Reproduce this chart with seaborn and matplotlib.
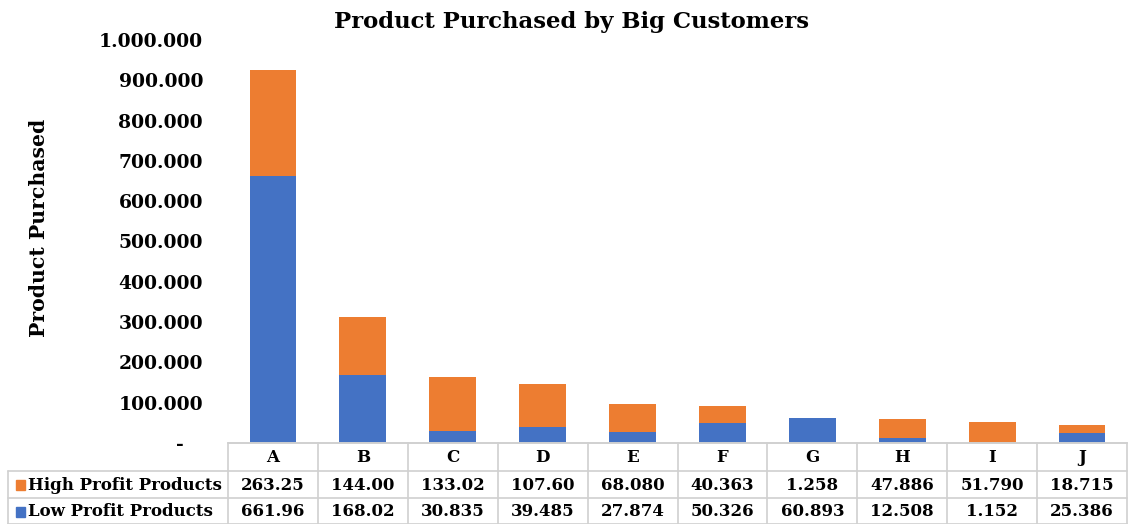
import matplotlib
matplotlib.use("Agg")
import matplotlib.pyplot as plt
import seaborn as sns
import pandas as pd
from matplotlib.lines import Line2D
from matplotlib.patches import Rectangle
from matplotlib.ticker import FuncFormatter, MultipleLocator

customers = ["A", "B", "C", "D", "E", "F", "G", "H", "I", "J"]
high_profit = [263250, 144000, 133020, 107600, 68080, 40363, 1258, 47886, 51790, 18715]
low_profit = [661960, 168020, 30835, 39485, 27874, 50326, 60893, 12508, 1152, 25386]
high_labels = ["263.25", "144.00", "133.02", "107.60", "68.080", "40.363", "1.258", "47.886", "51.790", "18.715"]
low_labels = ["661.96", "168.02", "30.835", "39.485", "27.874", "50.326", "60.893", "12.508", "1.152", "25.386"]
series_names = ["High Profit Products", "Low Profit Products"]

BLUE = "#4472C4"
ORANGE = "#ED7D31"
GRID = "#D0D0D0"

sns.set_theme(style="white")
plt.rcParams["font.family"] = ["DejaVu Serif"]
plt.rcParams["font.weight"] = "bold"
plt.rcParams["text.color"] = "black"
plt.rcParams["axes.labelcolor"] = "black"

df = pd.DataFrame({"customer": customers, "high": high_profit, "low": low_profit})
df["total"] = df["high"] + df["low"]

W, H = 1129, 524
fig = plt.figure(figsize=(W / 100, H / 100), dpi=100)
ax = fig.add_axes([228 / W, 1 - 443 / H, (1127 - 228) / W, (443 - 40) / H])

sns.barplot(data=df, x="customer", y="total", color=ORANGE, width=0.52, ax=ax,
            saturation=1, edgecolor="none")
sns.barplot(data=df, x="customer", y="low", color=BLUE, width=0.52, ax=ax,
            saturation=1, edgecolor="none")

ax.set_xlim(-0.5, 9.5)
ax.set_ylim(0, 1000000)
ax.yaxis.set_major_locator(MultipleLocator(100000))
ax.yaxis.set_major_formatter(FuncFormatter(
    lambda v, p: "-   " if v == 0 else f"{int(round(v)):,}".replace(",", ".")))
ax.tick_params(axis="y", length=0, pad=18, labelsize=13.5, labelcolor="black")
for lab in ax.get_yticklabels():
    lab.set_fontweight("bold")
ax.set_xticks([])
ax.set_xlabel("")
ax.set_ylabel("Product Purchased", fontsize=14.7, fontweight="bold")
ax.yaxis.set_label_coords(-0.199, 0.533)
for s in ["left", "top", "right"]:
    ax.spines[s].set_visible(False)
ax.spines["bottom"].set_color(GRID)
ax.spines["bottom"].set_linewidth(1.2)
ax.grid(False)

fig.text(571 / W, 1 - 22 / H, "Product Purchased by Big Customers", ha="center", va="center",
         fontsize=16.4, fontweight="bold", color="black")

# Data table under the chart
def fy(px):
    return 1 - px / H

def fx_data(xd):
    return (228 + (xd + 0.5) * (1127 - 228) / 10) / W

left_edge = 8 / W
x_start = fx_data(-0.5)
x_end = fx_data(9.5)
lines = []
lines.append(Line2D([x_start, x_end], [fy(443), fy(443)]))
lines.append(Line2D([left_edge, x_end], [fy(471), fy(471)]))
lines.append(Line2D([left_edge, x_end], [fy(498), fy(498)]))
lines.append(Line2D([left_edge, x_end], [fy(523.5), fy(523.5)]))
for i in range(11):
    xv = fx_data(-0.5 + i)
    lines.append(Line2D([xv, xv], [fy(443), fy(524)]))
lines.append(Line2D([left_edge, left_edge], [fy(471), fy(524)]))
for ln in lines:
    ln.set_color(GRID)
    ln.set_linewidth(1.2)
    ln.set_transform(fig.transFigure)
    fig.add_artist(ln)

for i, c in enumerate(customers):
    fig.text(fx_data(i), fy(458), c, ha="center", va="center", fontsize=12, fontweight="bold")
    fig.text(fx_data(i), fy(485), high_labels[i], ha="center", va="center", fontsize=12, fontweight="bold")
    fig.text(fx_data(i), fy(512), low_labels[i], ha="center", va="center", fontsize=12, fontweight="bold")

for name, color, yc in [(series_names[0], ORANGE, 485), (series_names[1], BLUE, 512)]:
    fig.add_artist(Rectangle((16 / W, fy(yc + 5)), 9 / W, 10 / H, color=color,
                             transform=fig.transFigure))
    fig.text(28 / W, fy(yc), name, ha="left", va="center", fontsize=12, fontweight="bold")

fig.savefig("out.png", dpi=100)
